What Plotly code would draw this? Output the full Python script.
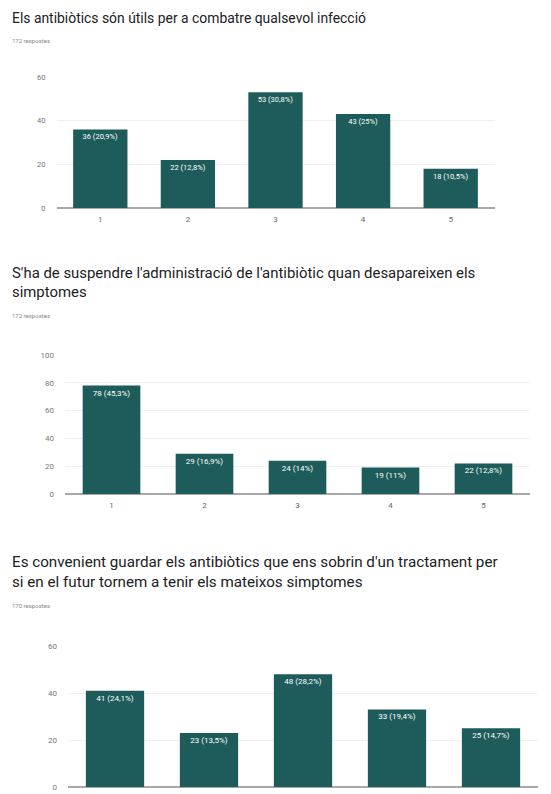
import plotly.graph_objects as go

W, H = 551, 794

categories = ["1", "2", "3", "4", "5"]

title1 = "Els antibiòtics són útils per a combatre qualsevol infecció"
title2 = "S'ha de suspendre l'administració de l'antibiòtic quan desapareixen els<br>simptomes"
title3 = "Es convenient guardar els antibiòtics que ens sobrin d'un tractament per<br>si en el futur tornem a tenir els mateixos simptomes"

counts1 = [36, 22, 53, 43, 18]
counts2 = [78, 29, 24, 19, 22]
counts3 = [41, 23, 48, 33, 25]

responses1 = 172
responses2 = 172
responses3 = 170

ytick1 = [0, 20, 40, 60]
ytick2 = [0, 20, 40, 60, 80, 100]
ytick3 = [0, 20, 40, 60]

BAR = "#1d5c5a"
FONT = "Roboto"


def pct_labels(counts, total):
    out = []
    for c in counts:
        p = round(100 * c / total, 1)
        s = f"{p:.1f}".rstrip("0").rstrip(".").replace(".", ",")
        out.append(f"{c} ({s}%)")
    return out


def py(px):
    return 1 - px / H


def px_x(px):
    return px / W


panels = [
    dict(counts=counts1, total=responses1, ticks=ytick1, rng=[0, 60],
         xdom=[56.5, 494.5], ydom=[208, 77], title=title1, ty=18, sy=40,
         tsize=13.9, barfont=7.5, ylab=7.5),
    dict(counts=counts2, total=responses2, ticks=ytick2, rng=[0, 100],
         xdom=[65, 530], ydom=[494, 355], title=title2, ty=282, sy=315,
         tsize=14.9, barfont=8, ylab=8),
    dict(counts=counts3, total=responses3, ticks=ytick3, rng=[0, 60],
         xdom=[68, 538], ydom=[787, 646], title=title3, ty=572, sy=605,
         tsize=15.2, barfont=8, ylab=8),
]

fig = go.Figure()
annotations = []
for i, p in enumerate(panels, start=1):
    xa = "x" if i == 1 else f"x{i}"
    ya = "y" if i == 1 else f"y{i}"
    fig.add_trace(go.Bar(
        x=categories, y=p["counts"], xaxis=xa, yaxis=ya,
        marker=dict(color=BAR, line=dict(width=0)),
        text=pct_labels(p["counts"], p["total"]),
        textposition="inside", insidetextanchor="end",
        textfont=dict(color="white", size=p["barfont"], family=FONT),
        textangle=0, cliponaxis=False, hoverinfo="skip",
        showlegend=False,
    ))
    xkey = "xaxis" if i == 1 else f"xaxis{i}"
    ykey = "yaxis" if i == 1 else f"yaxis{i}"
    fig.update_layout(**{
        xkey: dict(domain=[px_x(p["xdom"][0]), px_x(p["xdom"][1])],
                   anchor=ya, showgrid=False, showline=False, zeroline=False,
                   ticks="", ticklabelstandoff=5, automargin=False,
                   tickfont=dict(size=8, color="#666", family=FONT),
                   fixedrange=True),
        ykey: dict(domain=[py(p["ydom"][0]), py(p["ydom"][1])],
                   anchor=xa, range=p["rng"], tickvals=p["ticks"],
                   showgrid=True, gridcolor="#f0f0f0", gridwidth=1,
                   zeroline=True, zerolinecolor="#a8a8a8", zerolinewidth=1.5,
                   showline=False, ticks="", ticklabelstandoff=10,
                   automargin=False,
                   tickfont=dict(size=p["ylab"], color="#777", family=FONT),
                   fixedrange=True),
    })
    annotations.append(dict(
        text=p["title"], x=px_x(10), y=py(p["ty"]), xref="paper", yref="paper",
        xanchor="left", yanchor="middle", showarrow=False, align="left",
        font=dict(size=p["tsize"], color="#202124", family=FONT),
    ))
    annotations.append(dict(
        text=f"{p['total']} respostes", x=px_x(10), y=py(p["sy"]),
        xref="paper", yref="paper", xanchor="left", yanchor="middle",
        showarrow=False, font=dict(size=6, color="#888", family=FONT),
    ))

fig.update_layout(
    width=W, height=H,
    margin=dict(l=0, r=0, t=0, b=0, pad=0, autoexpand=False),
    paper_bgcolor="white", plot_bgcolor="white",
    annotations=annotations,
    font=dict(family=FONT),
    bargap=0.38,
    uniformtext=dict(minsize=6, mode="show"),
)

fig.write_html("out.html", config={"displayModeBar": False})
